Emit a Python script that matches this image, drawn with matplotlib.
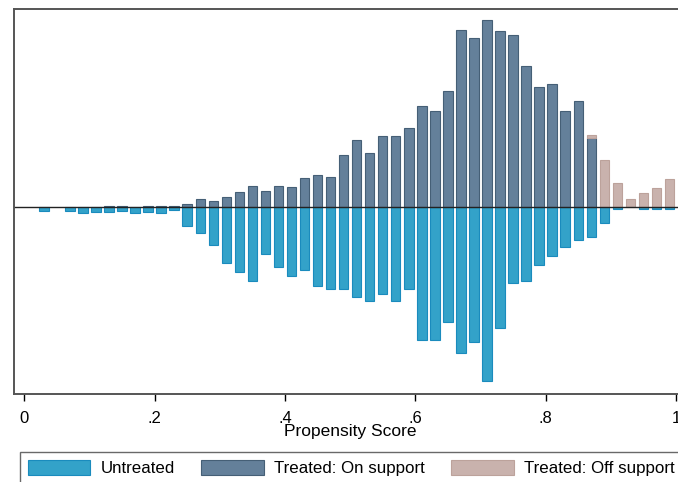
import numpy as np
import matplotlib
matplotlib.use("Agg")
import matplotlib.pyplot as plt
from matplotlib.patches import Patch

plt.rcParams["font.family"] = ["Liberation Sans", "DejaVu Sans"]

# bin centres of the propensity score histogram (bin width .02)
centers = np.round(np.arange(0.03, 1.0, 0.02), 2)

# bar heights (arbitrary units)
untreated = [4.3, 0, 4.3, 6.3, 5.3, 5.3, 4.3, 6.3, 5.3, 6.3,
             3.3, 19.3, 25.7, 37.7, 55.7, 65.3, 74, 47.3, 60, 68.7,
             63.3, 79.3, 82.3, 82.3, 89.7, 94.3, 86.7, 94.3, 82.3, 132.7,
             132.7, 114.7, 146.3, 134.7, 174.3, 121, 76.3, 74, 58, 48.7,
             39.7, 33.3, 30.3, 16.3, 1.7, 0, 1.7, 1.7, 1.7]
treated_on = [0, 0, 0, 0, 0, 0.8, 1.3, 0, 0.8, 1.3,
              1.3, 2.7, 7.7, 6.3, 10, 15, 21.3, 16, 21.3, 20,
              29, 32.3, 30, 52.3, 67.3, 53.7, 70.7, 70.7, 79.3, 100.7,
              96.3, 115.7, 177.3, 169, 186.7, 176.3, 172.3, 141, 119.7, 122.7,
              96.3, 106, 68.7, 0, 0, 0, 0, 0, 0]
treated_off = [0] * 42 + [3, 47, 23.7, 7.7, 14.3, 19.3, 28]

tick_vals = [0, 0.2, 0.4, 0.6, 0.8, 1]
tick_labels = ["0", ".2", ".4", ".6", ".8", "1"]

c_untr, e_untr = "#33a2c9", "#1a8bbd"
c_on, e_on = "#64809a", "#455f76"
c_off, e_off = "#c9b2ad", "#bca29b"

fig = plt.figure(figsize=(6.78, 4.82), dpi=100)
ax = fig.add_axes([14 / 678, 88 / 482, 672.3 / 678, 385.3 / 482])

w = 0.0145
untr = np.array(untreated, dtype=float)
on = np.array(treated_on, dtype=float)
off = np.array(treated_off, dtype=float)

m = untr > 0
ax.bar(centers[m], -untr[m], width=w, color=c_untr, edgecolor=e_untr, linewidth=0.8)
m = on > 0
ax.bar(centers[m], on[m], width=w, color=c_on, edgecolor=e_on, linewidth=0.8)
m = off > 0
ax.bar(centers[m], off[m], width=w, bottom=on[m], color=c_off, edgecolor=e_off, linewidth=0.8)
ax.axhline(0, color="#222222", linewidth=1.0)

ax.set_xlim(-0.0158, 1.0158)
ax.set_ylim(-187, 198.3)
ax.set_yticks([])
ax.set_xticks(tick_vals)
ax.set_xticklabels(tick_labels, fontsize=12)
ax.tick_params(axis="x", direction="out", length=5, width=1, pad=7, colors="#000000")
ax.set_xlabel("Propensity Score", fontsize=12.5, labelpad=-1)

for s in ax.spines.values():
    s.set_color("#555555")
    s.set_linewidth(1.4)

handles = [Patch(facecolor=c_untr, edgecolor=e_untr, linewidth=0.8),
           Patch(facecolor=c_on, edgecolor=e_on, linewidth=0.8),
           Patch(facecolor=c_off, edgecolor=e_off, linewidth=0.8)]
leg = fig.legend(handles, ["Untreated", "Treated: On support", "Treated: Off support"],
                 loc="upper left", bbox_to_anchor=(20 / 678, 1 - 452 / 482),
                 ncol=3, fontsize=12.2, frameon=True, fancybox=False,
                 borderaxespad=0, borderpad=0.45, handlelength=3.7, handleheight=1.05,
                 handletextpad=0.6, columnspacing=1.55)
leg.get_frame().set_edgecolor("#444444")
leg.get_frame().set_linewidth(1.0)

fig.savefig("out.png", dpi=100)
